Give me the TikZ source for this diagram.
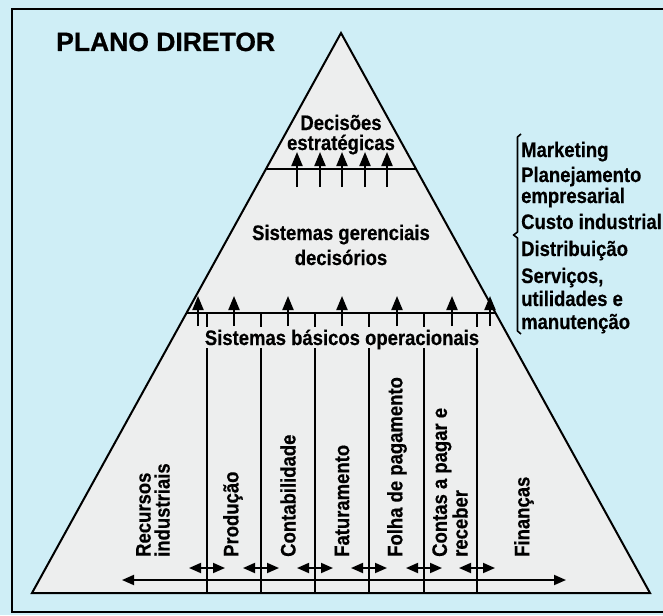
\documentclass[tikz,border=0pt]{standalone}
\usepackage{fontspec}
\setmainfont{Liberation Sans}[FakeStretch=0.88,FakeBold=0.5]
\newfontfamily\titlefont{Liberation Sans}[FakeBold=0.7]
\usetikzlibrary{arrows.meta,calc}
\definecolor{bgc}{RGB}{207,238,246}
\definecolor{trif}{RGB}{237,238,238}
\tikzset{
  lbl/.style={font=\fontsize{21}{21}\selectfont\bfseries, inner sep=0pt, anchor=base},
  vlbl/.style={font=\fontsize{21}{19}\selectfont\bfseries, inner sep=0pt, align=left, rotate=90, anchor=west},
  rlbl/.style={font=\fontsize{21}{21}\selectfont\bfseries, inner sep=0pt, anchor=base west},
  uparrow/.style={-{Triangle[length=14pt,width=11pt]}, line width=2pt},
  dblarrow/.style={{Triangle[length=12pt,width=10pt]}-{Triangle[length=12pt,width=10pt]}, line width=1.8pt},
  divider/.style={line width=1.4pt},
  edge/.style={line width=2pt}
}
\begin{document}
\begin{tikzpicture}[x=1pt,y=-1pt]
\useasboundingbox (0,0) rectangle (663,615);
\clip (0,0) rectangle (663,615);
\fill[bgc] (0,0) rectangle (663,615);
% frame
\draw[line width=2.4pt] (700,9) -- (12,9) -- (12,612) -- (700,612);
% title
\node[anchor=base west, inner sep=0pt, font=\titlefont\fontsize{26.5}{28}\selectfont\bfseries] (title) at (56,51) {PLANO DIRETOR};
% triangle
\coordinate (A) at (341,33);
\coordinate (B) at (32,593);
\coordinate (C) at (650,593);
\filldraw[fill=trif, edge, line join=miter] (A) -- (B) -- (C) -- cycle;
% band lines
\coordinate (L1) at ($(A)!0.2429!(B)$);
\coordinate (R1) at ($(A)!0.2429!(C)$);
\coordinate (L2) at ($(A)!0.5!(B)$);
\coordinate (R2) at ($(A)!0.5!(C)$);
\draw[line width=1.6pt] (L1) -- (R1);
\draw[line width=1.6pt] (L2) -- (R2);
% texts in pyramid
\node[lbl] (dec1) at (341,130) {Decisões};
\node[lbl] (dec2) at (341,150) {estratégicas};
\node[lbl] (ger1) at (341,240) {Sistemas gerenciais};
\node[lbl] (ger2) at (341,265) {decisórios};
\node[lbl] (bas) at (342,345) {Sistemas básicos operacionais};
% top arrows
\foreach \x [count=\i] in {297,320,342,365,387}{
  \coordinate (ta\i) at (\x,187);
  \coordinate (th\i) at (\x,152);
  \draw[uparrow] (ta\i) -- (th\i);
}
% middle arrows
\foreach \x [count=\i] in {198,234,288,342,397,452,490}{
  \coordinate (ma\i) at (\x,326);
  \coordinate (mh\i) at (\x,296);
  \draw[uparrow] (ma\i) -- (mh\i);
}
% dividers
\foreach \x [count=\i] in {207,261,315,369,424,477}{
  \coordinate (dt\i) at (\x,313);
  \coordinate (dm\i) at (\x,327);
  \coordinate (dn\i) at (\x,348);
  \coordinate (db\i) at (\x,593);
  \draw[divider] (dt\i) -- (dm\i);
  \draw[divider] (dn\i) -- (db\i);
  \coordinate (sl\i) at (\x-18,568);
  \coordinate (sr\i) at (\x+18,568);
  \draw[dblarrow] (sl\i) -- (sr\i);
}
\coordinate (ll) at (122,580);
\coordinate (lr) at (566,580);
\draw[dblarrow] (ll) -- (lr);
% vertical labels
\node[vlbl] (rec) at (153,557) {Recursos\\industriais};
\node[vlbl] (pro) at (233,557) {Produção};
\node[vlbl] (con) at (288,557) {Contabilidade};
\node[vlbl] (fat) at (342,557) {Faturamento};
\node[vlbl] (fol) at (397,557) {Folha de pagamento};
\node[vlbl] (cpr) at (450,557) {Contas a pagar e\\receber};
\node[vlbl] (fin) at (524,557) {Finanças};
% bracket
\draw[line width=1.6pt, line join=round] (521,134) -- (517.5,137) -- (517.5,232) -- (513.5,235) -- (517.5,238) -- (517.5,331) -- (521,334);
% right list
\node[rlbl] (mk) at (521,157) {Marketing};
\node[rlbl] (pl1) at (521,182) {Planejamento};
\node[rlbl] (pl2) at (521,203) {empresarial};
\node[rlbl] (ci) at (521,229) {Custo industrial};
\node[rlbl] (di) at (521,256) {Distribuição};
\node[rlbl] (se1) at (521,283) {Serviços,};
\node[rlbl] (se2) at (521,306) {utilidades e};
\node[rlbl] (se3) at (521,329) {manutenção};
\end{tikzpicture}
\end{document}
